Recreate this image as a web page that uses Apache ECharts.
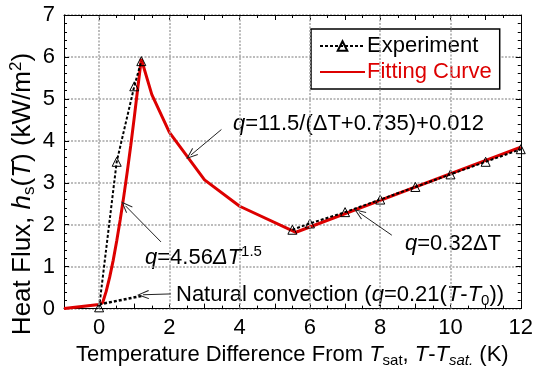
<!DOCTYPE html>
<html><head><meta charset="utf-8">
<script src="https://cdn.jsdelivr.net/npm/echarts@6/dist/echarts.min.js"></script>
<style>html,body{margin:0;padding:0;background:#fff}#c{width:536px;height:373px}</style>
</head><body><div id="c"></div><script>
// ---- data ----
const expBoilDeltaT = [0, 0.5, 1.0, 1.2];
const expBoilFlux   = [0.03, 3.5, 5.3, 5.9];
const expLinDeltaT  = [5.5, 6, 7, 8, 9, 10, 11, 12];
const expLinFlux    = [1.88, 2.03, 2.3, 2.6, 2.9, 3.2, 3.5, 3.8];
const fitDeltaT = [-1, 0, 0.1, 0.2, 0.3, 0.4, 0.5, 0.6, 0.7, 0.8, 0.9, 1.0, 1.1, 1.2, 1.5, 2, 3, 4, 5.6, 12];
const fitFlux   = [0, 0.1, 0.14, 0.41, 0.75, 1.15, 1.61, 2.12, 2.67, 3.26, 3.89, 4.56, 5.26, 5.95, 5.1, 4.2, 3.07, 2.44, 1.82, 3.85];
const natDeltaT = [0, 1.2];
const natFlux   = [0.1, 0.3];
// vertical grid values (x major ticks)
const xGridValues = [0, 2, 4, 6, 8, 10];
// annotation arrows (data units): [tailX, tailY, tipX, tipY]
const arrowHyper = [3.48, 4.27, 2.61, 3.66];
const arrowPower = [1.76, 1.59, 0.75, 2.45];
const arrowLin   = [8.33, 1.75, 7.40, 2.29];
const arrowNat   = [2.04, 0.35, 1.25, 0.33];
const xMin = -1, xMax = 12, yMin = 0, yMax = 7;

const FF = 'Liberation Sans, Arial, Helvetica, sans-serif';
const FS = 22;
const RED = '#dd0000';
const GRID = '#a6a6a6';
const GRID_STYLE = {color: GRID, width: 1.5, type: [2, 1.5]};
const zip = (a, b) => a.map((v, i) => [v, b[i]]);
const mkRich = (fs, sfs, sh) => ({
  n: {fontFamily: FF, fontSize: fs, color: '#000'},
  i: {fontFamily: FF, fontSize: fs, color: '#000', fontStyle: 'italic'},
  sub: {fontFamily: FF, fontSize: sfs, color: '#000', padding: [sh, 0, 0, 0]},
  isub: {fontFamily: FF, fontSize: sfs, color: '#000', fontStyle: 'italic', padding: [sh, 0, 0, 0]},
  sup: {fontFamily: FF, fontSize: sfs, color: '#000', padding: [0, 0, sh, 0]}
});
const rich = mkRich(FS, 15, 12);
const richY = mkRich(26, 17, 13);
const arrowHead = 'path://M5,0 L10,11 L9,11.6 L5,2.6 L1,11.6 L0,11 Z';
const arrowLine = a => [{coord: [a[0], a[1]], symbol: 'none'}, {coord: [a[2], a[3]], symbol: arrowHead}];
const vLine = v => [{coord: [v, yMin]}, {coord: [v, yMax]}];

const chart = echarts.init(document.getElementById('c'));
const tickCommon = () => ({inside: true, length: 5, lineStyle: {color: '#000', width: 1}});
const minorCommon = n => ({show: true, splitNumber: n, length: 3, lineStyle: {color: '#000', width: 1}});
const axLine = () => ({onZero: false, lineStyle: {color: '#000', width: 1}});
chart.setOption({
  animation: false,
  backgroundColor: '#fff',
  grid: {left: 64, right: 11, top: 15, bottom: 58},
  legend: {
    left: 311, top: 29, orient: 'vertical',
    padding: [6, 8, 6, 8], itemGap: 4, itemWidth: 45, itemHeight: 12,
    borderColor: '#000', borderWidth: 1.5, backgroundColor: '#fff',
    textStyle: {fontFamily: FF, fontSize: FS, color: '#000', padding: [0, 0, 0, -3]},
    data: [{name: 'Experiment'},
           {name: 'Fitting Curve', textStyle: {color: RED}, itemStyle: {opacity: 0}}]
  },
  xAxis: [{
    type: 'value', min: xMin, max: xMax, interval: 1, position: 'bottom',
    axisLine: axLine(),
    axisTick: tickCommon(), minorTick: minorCommon(2),
    axisLabel: {fontFamily: FF, fontSize: FS, color: '#000', margin: 8,
      formatter: v => (Math.abs(v % 2) < 1e-9 ? String(v) : '')},
    splitLine: {show: false},
    name: '{n|Temperature Difference From }{i|T}{sub|sat}{n|, }{i|T}{n|-}{i|T}{isub|sat.}{n| (K)}',
    nameLocation: 'middle', nameGap: 30,
    nameTextStyle: {rich: rich}
  }, {
    type: 'value', min: xMin, max: xMax, interval: 1, position: 'top',
    axisLine: axLine(),
    axisTick: tickCommon(), minorTick: minorCommon(2),
    axisLabel: {show: false}, splitLine: {show: false}
  }],
  yAxis: [{
    type: 'value', min: yMin, max: yMax, interval: 1, position: 'left',
    axisLine: axLine(),
    axisTick: tickCommon(), minorTick: minorCommon(5),
    axisLabel: {fontFamily: FF, fontSize: FS, color: '#000', margin: 9},
    splitLine: {show: true, lineStyle: GRID_STYLE}
  }, {
    type: 'value', min: yMin, max: yMax, interval: 1, position: 'right',
    axisLine: axLine(),
    axisTick: tickCommon(), minorTick: minorCommon(5),
    axisLabel: {show: false}, splitLine: {show: false}
  }],
  series: [
    {name: 'grid', type: 'line', data: [], z: 1,
     markLine: {
       silent: true, animation: false, symbol: 'none', label: {show: false},
       lineStyle: GRID_STYLE,
       data: xGridValues.map(vLine)
     }},
    {name: 'Fitting Curve', type: 'line', data: zip(fitDeltaT, fitFlux), symbol: 'none',
     lineStyle: {color: RED, width: 3}, itemStyle: {color: RED}, z: 2},
    {name: 'Natural', type: 'line', data: zip(natDeltaT, natFlux), symbol: 'none',
     lineStyle: {color: '#000', width: 2.5, type: [3, 2]}, z: 3},
    {name: 'Experiment', type: 'line', data: zip(expBoilDeltaT, expBoilFlux),
     symbol: 'triangle', symbolSize: 9, showAllSymbol: true,
     lineStyle: {color: '#000', width: 2, type: [3, 2]},
     itemStyle: {color: 'rgba(255,255,255,0)', borderColor: '#000', borderWidth: 1}, z: 4},
    {name: 'Experiment', type: 'line', data: zip(expLinDeltaT, expLinFlux),
     symbol: 'triangle', symbolSize: 9, showAllSymbol: true,
     lineStyle: {color: '#000', width: 2, type: [3, 2]},
     itemStyle: {color: 'rgba(255,255,255,0)', borderColor: '#000', borderWidth: 1}, z: 4},
    {name: 'arrows', type: 'line', data: [], z: 5,
     markLine: {
       silent: true, animation: false, symbolSize: [9, 12],
       label: {show: false},
       lineStyle: {color: '#222', width: 1, type: 'solid'},
       itemStyle: {color: '#000'},
       data: [arrowLine(arrowHyper), arrowLine(arrowPower), arrowLine(arrowLin), arrowLine(arrowNat)]
     }}
  ],
  graphic: [
    {type: 'text', x: 23, y: 194, rotation: Math.PI / 2,
     style: {text: '{n|Heat Flux, }{i|h}{sub|s}{n|(}{i|T}{n|) (kW/m}{sup|2}{n|)}', rich: richY,
             align: 'center', verticalAlign: 'middle'}},
    {type: 'text', left: 233, top: 113, style: {text: '{i|q}{n|=11.5/(ΔT+0.735)+0.012}', rich: rich}},
    {type: 'text', left: 145, top: 244, style: {text: '{i|q}{n|=4.56}{i|ΔT}{sup|1.5}', rich: rich}},
    {type: 'text', left: 405, top: 233, style: {text: '{i|q}{n|=0.32ΔT}', rich: rich}},
    {type: 'text', left: 176, top: 284, style: {text: '{n|Natural convection (}{i|q}{n|=0.21(}{i|T}{n|-}{i|T}{sub|0}{n|))}', rich: rich}}
  ]
});
</script></body></html>
